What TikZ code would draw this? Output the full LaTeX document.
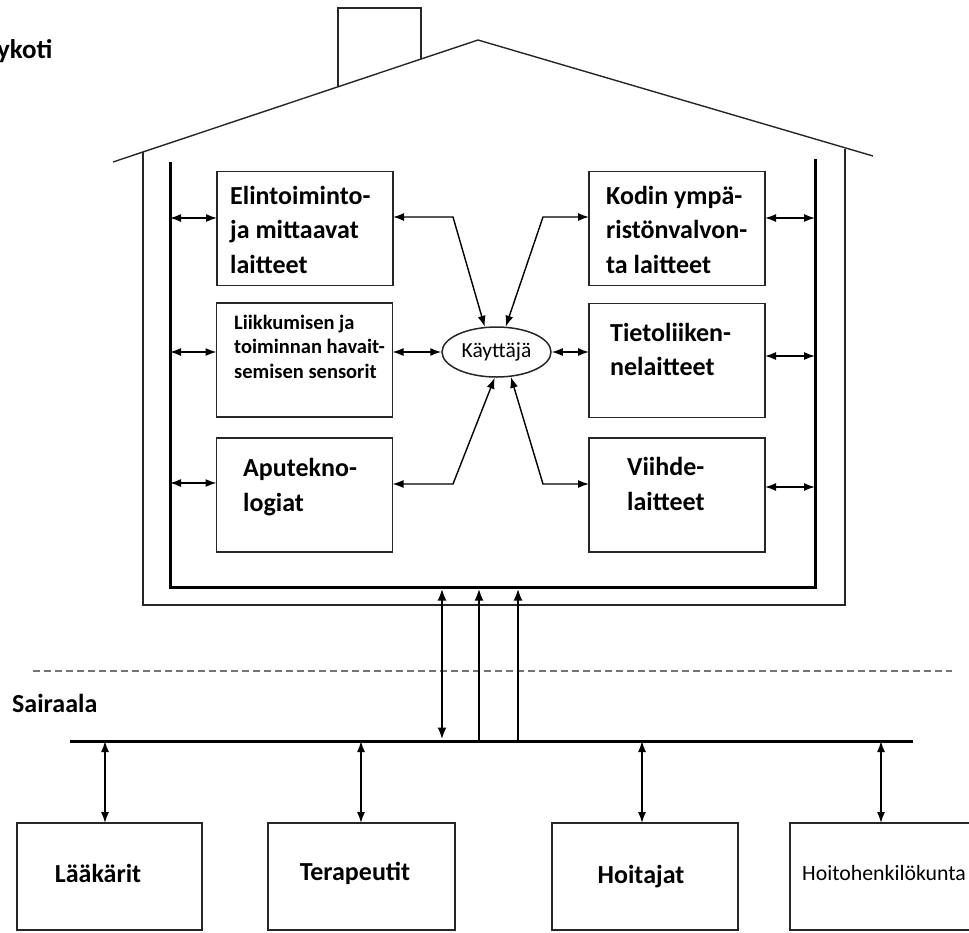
\documentclass[tikz,border=0pt]{standalone}
\usepackage{fontspec}
\setmainfont{Carlito}
\usetikzlibrary{arrows.meta,shapes.geometric}
\newcommand\firstln{\rule{0pt}{0.75em}}
\begin{document}
\begin{tikzpicture}[x=1pt,y=-1pt,
  thinln/.style={draw=black!85, line width=1.4pt},
  wallthick/.style={draw=black, line width=3pt},
  devbox/.style={draw=black!85, line width=1.5pt, minimum width=176pt, minimum height=114pt, inner sep=0pt, outer sep=0pt},
  staffbox/.style={draw=black!85, line width=1.5pt, minimum height=107pt, inner sep=0pt, outer sep=0pt},
  lbl/.style={font=\bfseries\fontsize{26}{34.5}\selectfont, align=left, inner sep=0pt, anchor=north west},
  slbl/.style={font=\bfseries\fontsize{20.5}{24.5}\selectfont, align=left, inner sep=0pt, anchor=north west},
  blbl/.style={font=\bfseries\fontsize{26}{30}\selectfont, inner sep=0pt, anchor=base},
  tipx/.tip={Latex[length=11pt,width=8pt]},
  darr/.style={line width=1.4pt, tipx-tipx},
  bigarr/.style={line width=2.6pt, {Latex[length=12pt,width=9pt]}-{Latex[length=12pt,width=9pt]}},
  bigsarr/.style={line width=2.6pt, -{Latex[length=12pt,width=9pt]}},
]
\useasboundingbox (0,0) rectangle (969,932);

% titles
\node[font=\bfseries\fontsize{27}{30}\selectfont, inner sep=0pt, anchor=base west] (title) at (-3,58) {ykoti};
\node[font=\bfseries\fontsize{26}{30}\selectfont, inner sep=0pt, anchor=base west] (hosp) at (12,712) {Sairaala};

% house outline
\draw[thinln] (113,162) -- (478,40) -- (873,156);
\draw[thinln] (338,87) -- (338,8) -- (421,8) -- (421,59);
\draw[thinln] (143,152) -- (143,605) -- (845,605) -- (845,149);
\draw[wallthick] (170,162) -- (170,587) -- (815,587) -- (815,159);

% device boxes
\node[devbox] (B1) at (305,228.5) {};
\node[devbox] (B2) at (304.5,360) {};
\node[devbox] (B3) at (304.5,495) {};
\node[devbox] (B4) at (677,228.5) {};
\node[devbox] (B5) at (677,360.5) {};
\node[devbox] (B6) at (677,495) {};

\node[lbl] (t1) at (230,184.5) {\firstln Elintoiminto-\\ja mittaavat\\laitteet};
\node[slbl] (t2) at (234,313.6) {\firstln Liikkumisen ja\\toiminnan havait-\\semisen sensorit};
\node[lbl] (t3) at (243,457) {\firstln Aputekno-\\logiat};
\node[lbl] (t4) at (606,184.5) {\firstln Kodin ympä-\\ristönvalvon-\\ta laitteet};
\node[lbl] (t5) at (610,321.5) {\firstln Tietoliiken-\\nelaitteet};
\node[lbl] (t6) at (627,456) {\firstln Viihde-\\laitteet};

% user
\node[ellipse, draw=black!85, line width=1.5pt, minimum width=109pt, minimum height=50pt, inner sep=0pt,
      font=\fontsize{21.5}{23}\selectfont] (U) at (496.5,352) {Käyttäjä};

% connectors to user
\coordinate (c1) at (453,217);
\coordinate (c2) at (543,217);
\coordinate (c3) at (453,484);
\coordinate (c4) at (543,484);
\draw[darr] (c1 -| B1.east) -- (c1) -- (U.115);
\draw[darr] (c2 -| B4.west) -- (c2) -- (U.70);
\draw[darr] (c3 -| B3.east) -- (c3) -- (U.266);
\draw[darr] (c4 -| B6.west) -- (c4) -- (U.300);
\draw[darr] (U.west -| B2.east) -- (U.west);
\draw[darr] (U.east) -- (U.east -| B5.west);

% wall connections
\coordinate (wl1) at (170,218);
\coordinate (wl2) at (170,352);
\coordinate (wl3) at (170,483);
\coordinate (wr1) at (815,218);
\coordinate (wr2) at (815,356);
\coordinate (wr3) at (815,487);
\draw[darr] (wl1) -- (wl1 -| B1.west);
\draw[darr] (wl2) -- (wl2 -| B2.west);
\draw[darr] (wl3) -- (wl3 -| B3.west);
\draw[darr] (wr1 -| B4.east) -- (wr1);
\draw[darr] (wr2 -| B5.east) -- (wr2);
\draw[darr] (wr3 -| B6.east) -- (wr3);

% separator
\draw[draw=black!55, line width=2pt, dash pattern=on 7pt off 4pt] (33,671) -- (952,671);

% hospital bus
\coordinate (busL) at (70,741);
\coordinate (busR) at (913,741);
\draw[line width=3pt] (busL) -- (busR);

% house-to-hospital links
\coordinate (h1) at (442,588.5);
\coordinate (h2) at (479,588.5);
\coordinate (h3) at (518,588.5);
\coordinate (k1) at (442,739.5);
\coordinate (k2) at (479,743);
\coordinate (k3) at (518,743);
\draw[bigarr] (k1) -- (h1);
\draw[bigsarr] (k2) -- (h2);
\draw[bigsarr] (k3) -- (h3);

% staff boxes
\node[staffbox, minimum width=185pt] (S1) at (109.5,876.5) {};
\node[staffbox, minimum width=187pt] (S2) at (361.5,876.5) {};
\node[staffbox, minimum width=186pt] (S3) at (645,876.5) {};
\node[staffbox, minimum width=190pt] (S4) at (885,876.5) {};

\node[blbl] (s1) at (98,882) {Lääkärit};
\node[blbl] (s2) at (355,880) {Terapeutit};
\node[blbl] (s3) at (641,883) {Hoitajat};
\node[font=\fontsize{21.8}{24}\selectfont, inner sep=0pt, anchor=base west] (s4) at (802,880) {Hoitohenkilökunta};

\coordinate (b1) at (105,741);
\coordinate (b2) at (361,741);
\coordinate (b3) at (642,741);
\coordinate (b4) at (881,741);
\draw[darr] (b1) -- (b1 |- S1.north);
\draw[darr] (b2) -- (b2 |- S2.north);
\draw[darr] (b3) -- (b3 |- S3.north);
\draw[darr] (b4) -- (b4 |- S4.north);
\end{tikzpicture}
\end{document}
